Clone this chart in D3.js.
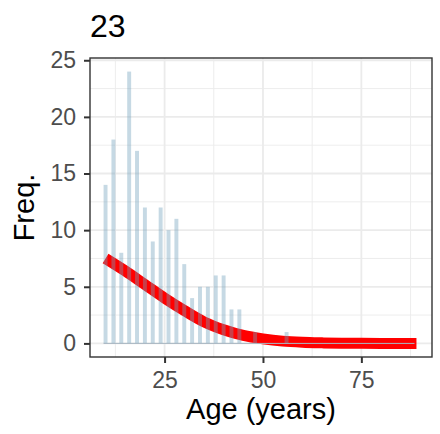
<!DOCTYPE html>
<html>
<head>
<meta charset="utf-8">
<script src="https://cdn.jsdelivr.net/npm/d3@7"></script>
<style>
  html, body { margin: 0; padding: 0; background: #fff; }
  svg { display: block; font-family: "Liberation Sans", Arial, Helvetica, sans-serif; }
</style>
</head>
<body>
<svg id="chart" width="440" height="434"></svg>
<script>
// Age-frequency counts (two-year age classes)
const ages = [10, 12, 14, 16, 18, 20, 22, 24, 26, 28, 30, 32, 34, 36, 38, 40, 42, 44, 46, 48,
              50, 52, 54, 56, 58, 60, 62, 64, 66, 68, 70, 72, 74, 76, 78, 80, 82, 84, 86, 88];
const counts = [14, 18, 8, 24, 17, 12, 9, 12, 10, 11, 7, 4, 5, 5, 6, 6, 3, 3, 0, 1,
                0, 0, 0, 1, 0, 0, 0, 0, 0, 0, 0, 0, 0, 0, 0, 0, 0, 0, 0, 0];

// Fitted curve, sampled along the age axis
const fitAges = [10, 15, 20, 25, 30, 35, 40, 45, 50, 55, 60, 65, 70, 75, 80, 85, 89];
const fitFreq = [7.5, 6.4, 5.2, 4.0, 2.9, 1.9, 1.2, 0.7, 0.4, 0.2, 0.1, 0.05, 0.02, 0.01, 0, 0, 0];

const xTicks = [25, 50, 75];
const xMinor = [12.5, 37.5, 62.5, 87.5];
const yTicks = [0, 5, 10, 15, 20, 25];
const yMinor = [2.5, 7.5, 12.5, 17.5, 22.5];

const titleText = "23";
const xTitle = "Age (years)";
const yTitle = "Freq.";

const panel = { left: 90, right: 432, top: 58, bottom: 357 };

// ggplot-style 5% expansion around the data ranges
const xLo = d3.min(fitAges), xHi = d3.max(fitAges);
const xPad = (xHi - xLo) * 0.05;
const yHi = d3.max(counts);
const yPad = yHi * 0.05;

const x = d3.scaleLinear().domain([xLo - xPad, xHi + xPad]).range([panel.left, panel.right]);
const y = d3.scaleLinear().domain([-yPad, yHi + yPad]).range([panel.bottom, panel.top]);

const svg = d3.select("#chart");
const g = svg.append("g");

// panel background
g.append("rect")
  .attr("x", panel.left).attr("y", panel.top)
  .attr("width", panel.right - panel.left).attr("height", panel.bottom - panel.top)
  .attr("fill", "#fff");

// minor grid
g.selectAll(".gx-minor").data(xMinor).join("line")
  .attr("x1", d => x(d)).attr("x2", d => x(d))
  .attr("y1", panel.top).attr("y2", panel.bottom)
  .attr("stroke", "#ebebeb").attr("stroke-width", 0.9);
g.selectAll(".gy-minor").data(yMinor).join("line")
  .attr("y1", d => y(d)).attr("y2", d => y(d))
  .attr("x1", panel.left).attr("x2", panel.right)
  .attr("stroke", "#ebebeb").attr("stroke-width", 0.9);

// major grid
g.selectAll(".gx-major").data(xTicks).join("line")
  .attr("x1", d => x(d)).attr("x2", d => x(d))
  .attr("y1", panel.top).attr("y2", panel.bottom)
  .attr("stroke", "#ebebeb").attr("stroke-width", 1.8);
g.selectAll(".gy-major").data(yTicks).join("line")
  .attr("y1", d => y(d)).attr("y2", d => y(d))
  .attr("x1", panel.left).attr("x2", panel.right)
  .attr("stroke", "#ebebeb").attr("stroke-width", 1.8);

// fitted curve
const line = d3.line()
  .x((d, i) => x(fitAges[i]))
  .y(d => y(d))
  .curve(d3.curveMonotoneX);
g.append("path")
  .datum(fitFreq)
  .attr("d", line)
  .attr("fill", "none")
  .attr("stroke", "#ff0000")
  .attr("stroke-width", 11)
  .attr("stroke-linecap", "butt")
  .attr("stroke-linejoin", "round");

// bars
const barW = x(1) - x(0);
g.selectAll(".bar").data(counts).join("rect")
  .attr("x", (d, i) => x(ages[i]) - barW / 2)
  .attr("width", barW)
  .attr("y", d => y(d))
  .attr("height", d => y(0) - y(d))
  .attr("fill", "rgb(112,160,187)")
  .attr("fill-opacity", 0.4);

// zero baseline of the bar layer
g.append("line")
  .attr("x1", x(ages[0]) - barW / 2)
  .attr("x2", x(ages[ages.length - 1]) + barW / 2)
  .attr("y1", y(0)).attr("y2", y(0))
  .attr("stroke", "#a9b7c2").attr("stroke-width", 1);

// panel border
g.append("rect")
  .attr("x", panel.left).attr("y", panel.top)
  .attr("width", panel.right - panel.left).attr("height", panel.bottom - panel.top)
  .attr("fill", "none").attr("stroke", "#333333").attr("stroke-width", 1.4);

// axes
const xAxis = d3.axisBottom(x).tickValues(xTicks).tickSize(6).tickPadding(9).tickFormat(d3.format("d"));
const yAxis = d3.axisLeft(y).tickValues(yTicks).tickSize(6).tickPadding(8).tickFormat(d3.format("d"));

const gx = svg.append("g").attr("transform", `translate(0,${panel.bottom})`).call(xAxis);
const gy = svg.append("g").attr("transform", `translate(${panel.left},0)`).call(yAxis);
[gx, gy].forEach(a => {
  a.select(".domain").remove();
  a.selectAll(".tick line").attr("stroke", "#333333").attr("stroke-width", 2);
  a.selectAll(".tick text")
    .attr("fill", "#4d4d4d")
    .style("font-size", "23px")
    .style("font-family", "\"Liberation Sans\", Arial, sans-serif");
});

// titles
svg.append("text")
  .attr("x", panel.left).attr("y", 37)
  .attr("fill", "#000").style("font-size", "32px")
  .text(titleText);

svg.append("text")
  .attr("x", (panel.left + panel.right) / 2).attr("y", 419)
  .attr("text-anchor", "middle")
  .attr("fill", "#000").style("font-size", "29px")
  .text(xTitle);

svg.append("text")
  .attr("transform", `translate(34,${(panel.top + panel.bottom) / 2}) rotate(-90)`)
  .attr("text-anchor", "middle")
  .attr("fill", "#000").style("font-size", "29px")
  .text(yTitle);
</script>
</body>
</html>
